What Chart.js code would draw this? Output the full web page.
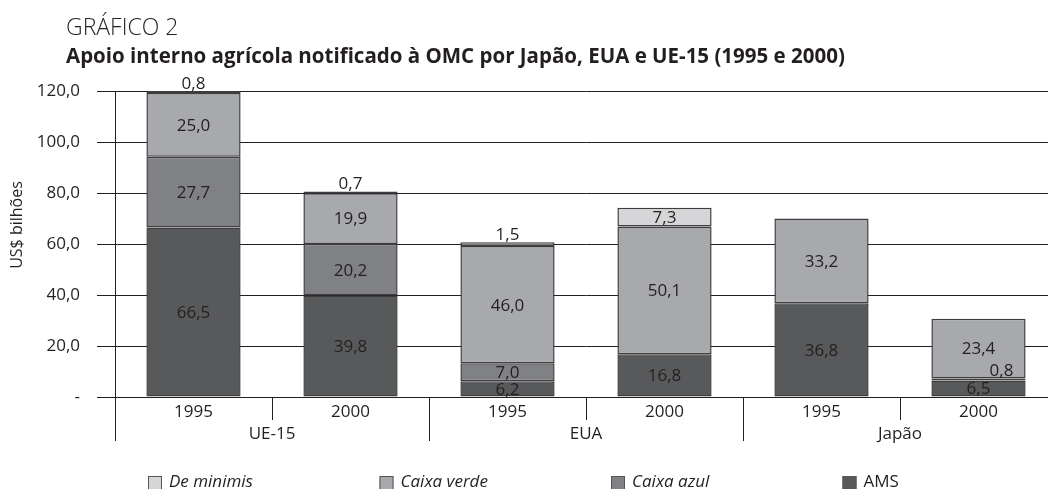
<!DOCTYPE html>
<html>
<head>
<meta charset="utf-8">
<script src="https://cdn.jsdelivr.net/npm/chart.js@4"></script>
<style>
  html, body { margin: 0; padding: 0; background: #fff; overflow: hidden; }
  #wrap { position: relative; width: 1048px; height: 489px; overflow: hidden; }
  canvas { position: absolute; left: 0; top: 0; }
</style>
</head>
<body>
<div id="wrap"><canvas id="chart" width="1058" height="489"></canvas></div>
<script>
const years = ['1995', '2000', '1995', '2000', '1995', '2000'];
const groups = ['UE-15', 'EUA', 'Japão'];
const yTicks = [0, 20, 40, 60, 80, 100, 120];

const ams = [66.5, 39.8, 6.2, 16.8, 36.8, 6.5];
const caixaAzul = [27.7, 20.2, 7.0, null, null, 0.8];
const caixaVerde = [25.0, 19.9, 46.0, 50.1, 33.2, 23.4];
const deMinimis = [0.8, 0.7, 1.5, 7.3, null, null];

const seriesNames = ['AMS', 'Caixa azul', 'Caixa verde', 'De minimis'];
const seriesColors = ['#58595b', '#808184', '#a8a9ad', '#d6d6d8'];

const ink = '#231f20';
const font = "'Open Sans', 'Noto Sans', sans-serif";

const fmt = v => v.toFixed(1).replace('.', ',');

// rótulos de valor dentro de cada segmento
const valueLabels = {
  id: 'valueLabels',
  afterDatasetsDraw(chart) {
    const ctx = chart.ctx;
    ctx.save();
    ctx.font = '17px ' + font;
    ctx.fillStyle = ink;
    ctx.textAlign = 'center';
    ctx.textBaseline = 'middle';
    chart.data.datasets.forEach((ds, i) => {
      const meta = chart.getDatasetMeta(i);
      meta.data.forEach((bar, j) => {
        const v = ds.data[j];
        if (v == null) return;
        const h = bar.base - bar.y;
        if (h >= 15) {
          ctx.fillText(fmt(v), bar.x, (bar.y + bar.base) / 2 + 1);
        } else {
          const onTop = chart.data.datasets.slice(i + 1).every(d => d.data[j] == null);
          ctx.fillText(fmt(v), bar.x + (onTop ? 0 : 23), bar.y - 7);
        }
      });
    });
    ctx.restore();
  }
};

// separadores e rótulos dos grupos no eixo x, título, legenda
const decorations = {
  id: 'decorations',
  afterDraw(chart) {
    const ctx = chart.ctx;
    const xs = chart.scales.x;
    const bottom = chart.chartArea.bottom;
    ctx.save();
    ctx.strokeStyle = ink;
    ctx.lineWidth = 1;
    for (let k = 0; k < years.length; k++) {
      const x = Math.round(xs.getPixelForValue(k - 0.5)) + 0.5;
      ctx.beginPath();
      ctx.moveTo(x, bottom);
      ctx.lineTo(x, bottom + (k % 2 === 0 ? 44 : 23));
      ctx.stroke();
    }
    ctx.fillStyle = ink;
    ctx.font = '17px ' + font;
    ctx.textAlign = 'center';
    ctx.textBaseline = 'middle';
    groups.forEach((g, i) => {
      ctx.fillText(g, xs.getPixelForValue(i * 2 + 0.5), bottom + 37);
    });

    // título do eixo y
    ctx.save();
    ctx.translate(17, 225);
    ctx.rotate(-Math.PI / 2);
    ctx.font = '16px ' + font;
    ctx.fillText('US$ bilhões', 0, 0);
    ctx.restore();

    // títulos
    ctx.textAlign = 'left';
    ctx.textBaseline = 'alphabetic';
    ctx.font = '300 23px ' + font;
    ctx.fillText('GRÁFICO 2', 66, 35);
    ctx.font = 'bold 20.5px ' + font;
    ctx.fillText('Apoio interno agrícola notificado à OMC por Japão, EUA e UE-15 (1995 e 2000)', 66, 63);

    // legenda
    const order = [3, 2, 1, 0];
    order.forEach((s, i) => {
      const x = 148 + i * 231.5;
      ctx.fillStyle = seriesColors[s];
      ctx.fillRect(x, 476, 14, 14);
      ctx.strokeStyle = '#555';
      ctx.strokeRect(x + 0.5, 476.5, 13, 13);
      ctx.fillStyle = ink;
      ctx.font = (s === 0 ? '' : 'italic ') + '17px ' + font;
      ctx.textBaseline = 'middle';
      ctx.fillText(seriesNames[s], x + 21, 482);
    });
    ctx.restore();
  }
};

const seriesData = [ams, caixaAzul, caixaVerde, deMinimis];

new Chart(document.getElementById('chart'), {
  type: 'bar',
  data: {
    labels: years,
    datasets: seriesData.map((d, i) => ({
      label: seriesNames[i],
      data: d,
      backgroundColor: seriesColors[i],
      borderColor: '#3d3d3e',
      borderWidth: 1.5,
      borderSkipped: false,
      barPercentage: 0.6,
      categoryPercentage: 1
    }))
  },
  options: {
    responsive: false,
    animation: false,
    devicePixelRatio: 1,
    layout: { padding: { top: 91, right: 1, bottom: 0, left: 0 } },
    plugins: {
      legend: { display: false },
      tooltip: { enabled: false }
    },
    scales: {
      x: {
        stacked: true,
        afterFit: s => { s.height = 92; },
        grid: { drawOnChartArea: false, drawTicks: false, offset: true },
        border: { color: ink },
        ticks: { color: ink, padding: 5, font: { family: font, size: 17 } }
      },
      y: {
        stacked: true,
        min: 0,
        max: 120,
        afterFit: s => { s.width = 115; },
        afterBuildTicks: s => { s.ticks = yTicks.map(v => ({ value: v })); },
        grid: { color: ink, lineWidth: 1, tickLength: 18 },
        border: { color: ink },
        ticks: {
          color: ink,
          padding: 17,
          font: { family: font, size: 17 },
          callback: v => v === 0 ? '-' : fmt(v)
        }
      }
    }
  },
  plugins: [valueLabels, decorations]
});
</script>
</body>
</html>
